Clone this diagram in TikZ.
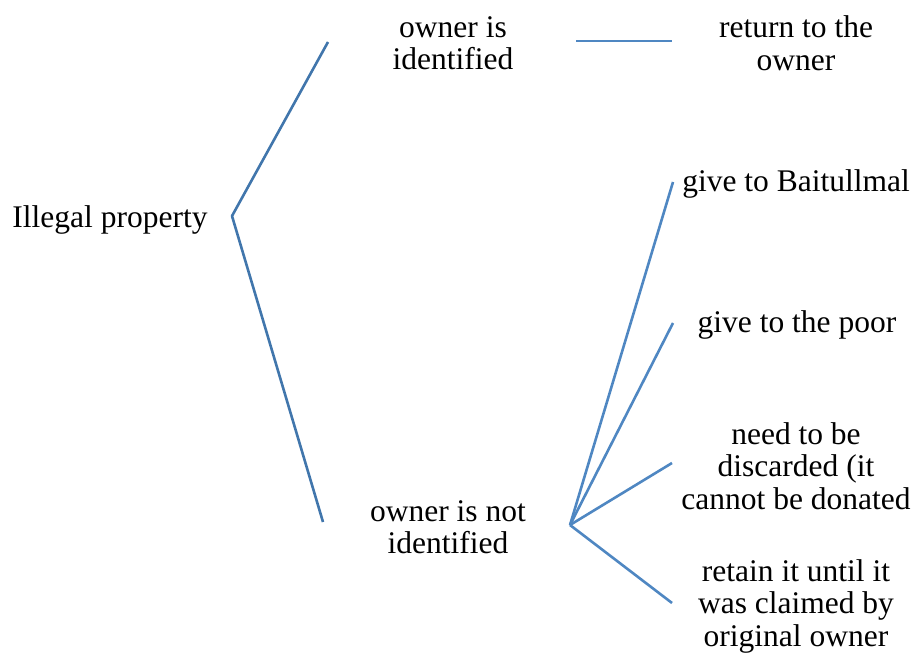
\documentclass[tikz,border=0pt]{standalone}
\usepackage{fontspec}
\setmainfont{Liberation Serif}
\begin{document}
\begin{tikzpicture}[x=1pt,y=-1pt,
  lbl/.style={align=center,inner sep=0pt,font=\fontsize{31.5}{32.5}\selectfont},
  darkline/.style={draw=dkblue,line width=2.6pt},
  liteline/.style={draw=ltblue,line width=2.6pt}]
\definecolor{dkblue}{HTML}{4176AC}
\definecolor{ltblue}{HTML}{4F87C2}
\useasboundingbox (0,0) rectangle (915,655);
\node[lbl] (root) at (110,220) {Illegal property};
\node[lbl] (idf) at (453,43) {owner is\\identified};
\node[lbl] (ret) at (796,43) {return to the\\owner};
\node[lbl] (nid) at (448,527) {owner is not\\identified};
\node[lbl] (bai) at (796,184) {give to Baitullmal};
\node[lbl] (poor) at (797,325) {give to the poor};
\node[lbl] (disc) at (796,466) {need to be\\discarded (it\\cannot be donated};
\node[lbl] (keep) at (796,606) {retain it until it\\was claimed by\\original owner};
\coordinate (r0) at (232,216);
\coordinate (r1) at (328,42);
\coordinate (r2) at (323,522);
\coordinate (h1) at (576,41);
\coordinate (h2) at (672,41);
\coordinate (f0) at (570,525);
\coordinate (f1) at (673,182);
\coordinate (f2) at (673,323);
\coordinate (f3) at (672,463);
\coordinate (f4) at (672,603);
\draw[darkline,line join=round] (r1) -- (r0) -- (r2);
\draw[liteline] (h1) -- (h2);
\draw[liteline] (f0) -- (f1);
\draw[liteline] (f0) -- (f2);
\draw[liteline] (f0) -- (f3);
\draw[liteline] (f0) -- (f4);
\end{tikzpicture}
\end{document}
